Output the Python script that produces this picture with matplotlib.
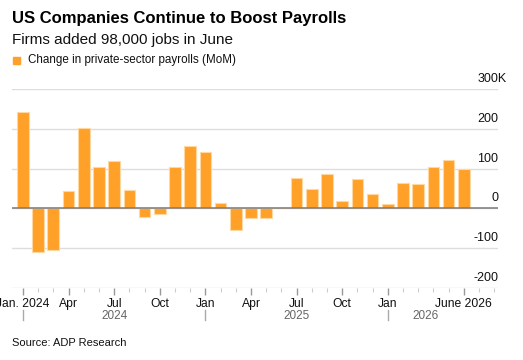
import numpy as np
import matplotlib
matplotlib.use("Agg")
import matplotlib.pyplot as plt

# Données (milliers d'emplois, variation mensuelle)
payrolls = [242, -109, -104, 43, 202, 104, 120, 46, -21, -13, 103, 158,
            141, 13, -54, -24, -25, 0, 76, 49, 87, 19, 74, 36,
            10, 65, 61, 105, 122, 98]
tick_idx = [0, 3, 6, 9, 12, 15, 18, 21, 24, 29]
tick_labels = ["Jan. 2024", "Apr", "Jul", "Oct", "Jan", "Apr", "Jul", "Oct", "Jan", "June 2026"]
years = ["2024", "2025", "2026"]
year_pos = [6, 18, 26.5]
year_start = [0, 12, 24]
y_ticks = [-200, -100, 0, 100, 200, 300]
y_labels = ["-200", "-100", "0", "100", "200", "300K"]

plt.rcParams["font.family"] = ["Liberation Sans", "DejaVu Sans"]

W, H = 523, 360
fig = plt.figure(figsize=(W / 100, H / 100), dpi=100)
ax = fig.add_axes([12 / W, (H - 288) / H, (498 - 12) / W, (288 - 89) / H])

x = np.arange(len(payrolls))
ax.bar(x, payrolls, width=0.77, color="#FFA028", edgecolor="#FFD7A0", linewidth=0.8, zorder=3)

ax.set_xlim(-0.72, 31.25)
ax.set_ylim(-200, 300)

# grille horizontale
for v in y_ticks:
    ax.axhline(v, color="#DDDDDD", linewidth=1, zorder=1)
ax.axhline(0, color="#7A7A7A", linewidth=1.1, zorder=4)

for v, lab in zip(y_ticks, y_labels):
    dx = 9 if lab.endswith("K") else 0
    ax.annotate(lab, xy=(1, v), xycoords=("axes fraction", "data"),
                xytext=(dx, 4), textcoords="offset pixels",
                ha="right", va="bottom", fontsize=9, color="#111111")

for s in ax.spines.values():
    s.set_visible(False)
ax.set_yticks([])

ax.set_xticks(tick_idx)
ax.set_xticklabels(tick_labels, fontsize=8.7, color="#111111")
ax.set_xticks(np.arange(0, 32), minor=True)
ax.tick_params(axis="x", which="major", length=5, width=1, color="#999999", pad=2)
ax.tick_params(axis="x", which="minor", length=3, width=0.8, color="#CCCCCC")

# années
for yr, p in zip(years, year_pos):
    ax.annotate(yr, xy=(p, 0), xycoords=("data", "axes fraction"),
                xytext=(0, -28), textcoords="offset pixels",
                ha="center", va="center", fontsize=8.5, color="#666666")
for p in year_start:
    ax.plot([p, p], [-0.11, -0.16], transform=ax.get_xaxis_transform(),
            color="#AAAAAA", linewidth=1, clip_on=False)

fig.text(12 / W, 1 - 18 / H, "US Companies Continue to Boost Payrolls",
         fontsize=12, fontweight="bold", va="center", color="#000000")
fig.text(12 / W, 1 - 40 / H, "Firms added 98,000 jobs in June",
         fontsize=11, va="center", color="#111111")
fig.patches.append(plt.Rectangle((13 / W, 1 - 64 / H), 7 / W, 7 / H,
                                 transform=fig.transFigure, color="#FFA028"))
fig.text(28 / W, 1 - 60 / H, "Change in private-sector payrolls (MoM)",
         fontsize=8.4, va="center", color="#111111")
fig.text(12 / W, 1 - 343 / H, "Source: ADP Research",
         fontsize=8, va="center", color="#111111")

fig.savefig("out.png", dpi=100)
